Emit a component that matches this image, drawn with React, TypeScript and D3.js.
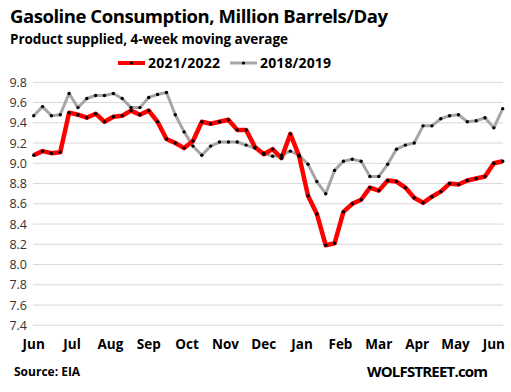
import React from "react";
import * as d3 from "d3";

const months = ["Jun", "Jul", "Aug", "Sep", "Oct", "Nov", "Dec", "Jan", "Feb", "Mar", "Apr", "May", "Jun"];
const yTicks = [7.4, 7.6, 7.8, 8.0, 8.2, 8.4, 8.6, 8.8, 9.0, 9.2, 9.4, 9.6, 9.8];

const series2122 = [
  9.08, 9.12, 9.10, 9.11, 9.50, 9.48, 9.45, 9.49, 9.41, 9.46,
  9.47, 9.52, 9.48, 9.52, 9.41, 9.24, 9.20, 9.15, 9.22, 9.41,
  9.39, 9.41, 9.43, 9.33, 9.33, 9.16, 9.09, 9.14, 9.05, 9.29,
  9.07, 8.68, 8.50, 8.19, 8.21, 8.52, 8.60, 8.64, 8.76, 8.73,
  8.83, 8.82, 8.76, 8.66, 8.61, 8.67, 8.72, 8.80, 8.79, 8.83,
  8.85, 8.87, 9.00, 9.02,
];

const series1819 = [
  9.47, 9.56, 9.47, 9.48, 9.69, 9.55, 9.64, 9.67, 9.67, 9.69,
  9.64, 9.55, 9.55, 9.65, 9.68, 9.70, 9.48, 9.31, 9.17, 9.08,
  9.17, 9.21, 9.21, 9.21, 9.18, 9.15, 9.10, 9.07, 9.08, 9.12,
  9.08, 8.99, 8.82, 8.70, 8.93, 9.02, 9.04, 9.02, 8.87, 8.87,
  8.99, 9.14, 9.18, 9.20, 9.37, 9.37, 9.44, 9.47, 9.48, 9.41,
  9.42, 9.45, 9.35, 9.54,
];

const W = 511;
const H = 392;
const font = "'Open Sans', 'Liberation Sans', sans-serif";

export default function App() {
  const n = series2122.length;
  const x = d3.scaleLinear().domain([0, n - 1]).range([33.7, 502.7]);
  const y = d3.scaleLinear().domain([7.4, 9.8]).range([325.3, 82.3]);
  const line = d3
    .line<number>()
    .x((_, i) => x(i))
    .y((d) => y(d))
    .curve(d3.curveLinear);
  const monthStep = (n - 2) / (months.length - 1);

  const dots = (data: number[]) =>
    data.map((v, i) => <circle key={i} cx={x(i)} cy={y(v)} r={1.7} fill="#000" />);

  return (
    <svg
      width={W}
      height={H}
      style={{ position: "absolute", left: 0, top: 0, background: "#fff" }}
      fontFamily={font}
    >
      <rect width={W} height={H} fill="#fff" />
      <text x={10} y={23} fontSize={18.5} fontWeight="bold" fill="#000" textLength={378} lengthAdjust="spacing">
        Gasoline Consumption, Million Barrels/Day
      </text>
      <text x={10} y={44} fontSize={13.5} fontWeight="bold" fill="#000" textLength={278} lengthAdjust="spacing">
        Product supplied, 4-week moving average
      </text>

      {/* legend */}
      <line x1={118} x2={145} y1={63} y2={63} stroke="#ff0000" strokeWidth={4} />
      <circle cx={131.5} cy={63} r={1.6} fill="#000" />
      <text x={148} y={68} fontSize={14} fontWeight="bold" fill="#000" textLength={72} lengthAdjust="spacing">
        2021/2022
      </text>
      <line x1={230} x2={257} y1={63} y2={63} stroke="#a6a6a6" strokeWidth={3} />
      <circle cx={243.5} cy={63} r={1.6} fill="#000" />
      <text x={260} y={68} fontSize={14} fontWeight="bold" fill="#000" textLength={71} lengthAdjust="spacing">
        2018/2019
      </text>

      {/* grid */}
      {yTicks.map((t) => (
        <g key={t}>
          <line x1={33} x2={503} y1={y(t)} y2={y(t)} stroke="#d9d9d9" strokeWidth={1} />
          <text x={27} y={y(t) + 4.5} fontSize={12.5} textAnchor="end" fill="#333">
            {t.toFixed(1)}
          </text>
        </g>
      ))}

      {/* months */}
      {months.map((m, i) => (
        <text
          key={i}
          x={x(i * monthStep)}
          y={349}
          fontSize={13.5}
          fontWeight="bold"
          textAnchor="middle"
          fill="#000"
        >
          {m}
        </text>
      ))}

      <path d={line(series1819) || ""} fill="none" stroke="#a6a6a6" strokeWidth={3} strokeLinejoin="round" />
      <path d={line(series2122) || ""} fill="none" stroke="#ff0000" strokeWidth={4.5} strokeLinejoin="round" />
      {dots(series1819)}
      {dots(series2122)}

      <text x={14} y={376} fontSize={12} fontWeight="bold" fill="#000">
        Source: EIA
      </text>
      <text x={367} y={377} fontSize={15} fontWeight="bold" fill="#000" textLength={121} lengthAdjust="spacing">
        WOLFSTREET.com
      </text>
    </svg>
  );
}
